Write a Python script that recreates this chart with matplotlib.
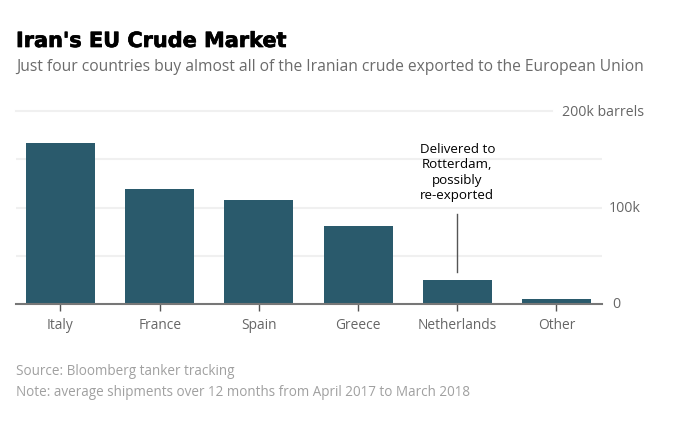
import matplotlib
matplotlib.use('Agg')
import matplotlib.pyplot as plt
import matplotlib.patheffects as pe

countries = ['Italy', 'France', 'Spain', 'Greece', 'Netherlands', 'Other']
barrels = [167, 119, 108, 81, 25, 5]  # thousand barrels
grid_values = [50, 100, 150]
tick_values = [0, 100, 200]
tick_labels = ['0', '100k', '200k barrels']
label_right = [620, 641, 644]  # right edge of each y label, pixels

W, H = 673, 421
plt.rcParams['font.family'] = ['Open Sans', 'DejaVu Sans']

fig = plt.figure(figsize=(W / 100, H / 100), dpi=100)
# axes placed in pixels: x 16-602, y 111-304
ax = fig.add_axes([16 / W, 1 - 304 / H, 586 / W, 193 / H])

ax.bar(range(len(countries)), barrels, width=0.695, color='#2a5a6c', zorder=3)
ax.set_xlim(-0.4486, 5.459)
ax.set_ylim(0, 200)

# light gridlines, top one stops short of its label
for v in grid_values:
    ax.axhline(v, color='#f0f0f0', lw=1.5, zorder=1)
ax.axhline(200, xmax=0.915, color='#f0f0f0', lw=1.5, zorder=1, clip_on=False)

for s in ['top', 'left', 'right']:
    ax.spines[s].set_visible(False)
ax.spines['bottom'].set_color('#777777')
ax.spines['bottom'].set_linewidth(1.5)
ax.spines['bottom'].set_zorder(4)

ax.set_xticks(range(len(countries)))
ax.set_xticklabels(countries, fontsize=9.9, color='#666666')
ax.tick_params(axis='x', length=5, width=1, color='#555555', pad=5)

ax.set_yticks([])
for v, lab, right in zip(tick_values, tick_labels, label_right):
    y_px = ax.transData.transform((0, v))[1]
    fig.text(right / W, (y_px - 1) / H, lab, ha='right', va='center',
             fontsize=10.2, color='#666666')

# annotation for the Netherlands bar
ax.plot([4, 4], [33, 93], color='#555555', lw=1, zorder=4)
ax.text(4, 105.5, 'Delivered to\nRotterdam,\npossibly\nre-exported', ha='center', va='bottom',
        fontsize=9.6, color='black', linespacing=1.25, zorder=5)

title = fig.text(16 / W, 1 - 41 / H, "Iran's EU Crude Market", fontsize=15, fontweight='bold',
                 color='black', va='center', family='DejaVu Sans')
title.set_path_effects([pe.withStroke(linewidth=0.5, foreground='black')])
fig.text(16 / W, 1 - 67 / H,
         'Just four countries buy almost all of the Iranian crude exported to the European Union',
         fontsize=11.25, color='#6b6b6b', va='center')
fig.text(16 / W, 1 - 371.5 / H, 'Source: Bloomberg tanker tracking', fontsize=9.76,
         color='#a0a0a0', va='center')
fig.text(16 / W, 1 - 392 / H, 'Note: average shipments over 12 months from April 2017 to March 2018',
         fontsize=9.76, color='#a0a0a0', va='center')

fig.savefig('out.png', dpi=100)
